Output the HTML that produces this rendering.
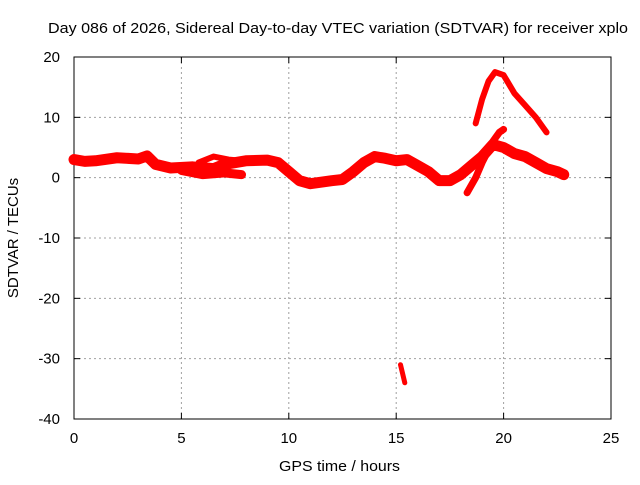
<!DOCTYPE html>
<html><head><meta charset="utf-8"><style>
body{margin:0;background:#fff}
svg text{font-family:"Liberation Sans",sans-serif;font-size:15px;fill:#000}
</style></head><body>
<svg id="c" width="640" height="480">
<rect width="640" height="480" fill="#fff"/>
<g id="grid"></g><g id="axes"></g><g id="series"></g>
<text x="48" y="33" textLength="580" lengthAdjust="spacingAndGlyphs">Day 086 of 2026, Sidereal Day-to-day VTEC variation (SDTVAR) for receiver xplo</text>
<text x="279" y="471" textLength="121" lengthAdjust="spacingAndGlyphs">GPS time / hours</text>
<text transform="translate(18,238) rotate(-90)" text-anchor="middle">SDTVAR / TECUs</text>
</svg>
<script>
const xTicks=[0,5,10,15,20,25];
const yTicks=[20,10,0,-10,-20,-30,-40];
const mainStrand=[[0,3],[0.5,2.7],[1,2.8],[2,3.3],[3,3.1],[3.4,3.6],[3.8,2.2],[4.5,1.6],[5.5,1.8],[6.5,1.5],[7,2.2],[8,2.8],[9,2.9],[9.5,2.5],[10,1],[10.5,-0.5],[11,-1],[12,-0.5],[12.5,-0.3],[13,1],[13.5,2.5],[14,3.5],[14.5,3.2],[15,2.8],[15.5,3],[16,2],[16.5,1],[17,-0.5],[17.5,-0.5],[18,0.5],[18.5,2],[19,3.5],[19.5,5.5],[20,5],[20.5,4],[21,3.5],[21.5,2.5],[22,1.5],[22.5,1],[22.8,0.5]];
const lowerStrand=[[5,1.2],[6,0.5],[7,0.8],[7.8,0.5]];
const upperArc=[[5.8,2.5],[6.5,3.5],[7.2,3],[7.8,2.8]];
const highArc=[[18.7,9],[19,13],[19.3,16],[19.6,17.5],[20,17],[20.5,14],[21,12],[21.5,10],[22,7.5]];
const risingStrand=[[18.3,-2.5],[18.7,0],[19,2.5],[19.5,6],[19.8,7.5],[20,8]];
const outlier=[[15.2,-31],[15.4,-34]];
const X0=74,X1=611,Y0=419,Y1=57;
const sx=h=>X0+(h-0)/(25-0)*(X1-X0);
const sy=v=>Y0-(v+40)/60*(Y0-Y1);
const NS="http://www.w3.org/2000/svg";
function mk(t,a,p){const e=document.createElementNS(NS,t);for(const k in a)e.setAttribute(k,a[k]);p.appendChild(e);return e;}
const grid=document.getElementById('grid'),axes=document.getElementById('axes'),ser=document.getElementById('series');
xTicks.forEach(t=>{const x=sx(t);
 if(t>0&&t<25){const g=mk('line',{x1:x,x2:x,y1:Y1,y2:Y0,stroke:'#a0a0a0','stroke-dasharray':'2,3'},grid);
 
 }
 mk('line',{x1:x,x2:x,y1:Y0,y2:Y0-6,stroke:'#000'},axes);
 mk('line',{x1:x,x2:x,y1:Y1,y2:Y1+6,stroke:'#000'},axes);
 const l=mk('text',{x:x,y:Y0+24,'text-anchor':'middle'},axes);l.textContent=t;
 
 });
yTicks.forEach(t=>{const y=sy(t);
 if(t<20&&t>-40){const g=mk('line',{x1:X0,x2:X1,y1:y,y2:y,stroke:'#a0a0a0','stroke-dasharray':'2,3'},grid);
 
 }
 mk('line',{x1:X0,x2:X0+6,y1:y,y2:y,stroke:'#000'},axes);
 mk('line',{x1:X1,x2:X1-6,y1:y,y2:y,stroke:'#000'},axes);
 const l=mk('text',{x:X0-14,y:y+5,'text-anchor':'end'},axes);l.textContent=t;
 
 });
const fr=mk('rect',{x:X0,y:Y1,width:X1-X0,height:Y0-Y1,fill:'none',stroke:'#000'},axes);


function draw(d,w,name){const p=mk('polyline',{points:d.map(q=>sx(q[0])+','+sy(q[1])).join(' '),fill:'none',stroke:'#f00','stroke-width':w,'stroke-linejoin':'round','stroke-linecap':'round'},ser);
 
 }
draw(mainStrand,11,'series-main-strand');
draw(lowerStrand,9,'series-lower-strand');
draw(upperArc,6,'series-upper-arc');
draw(highArc,6,'series-high-arc');
draw(risingStrand,7,'series-rising-strand');
draw(outlier,5,'series-outlier');
</script>
</body></html>
